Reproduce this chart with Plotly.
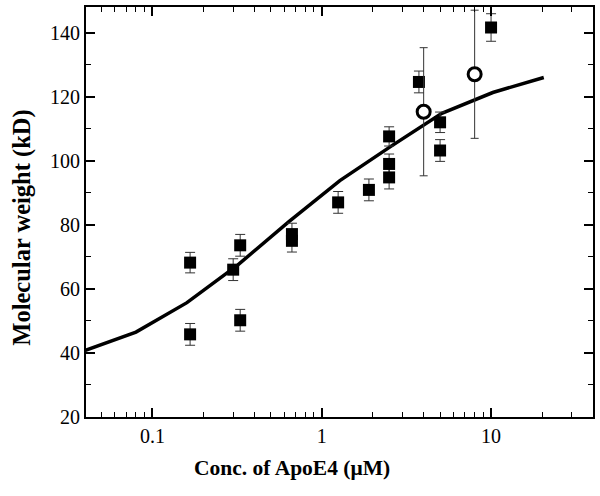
import plotly.graph_objects as go

# Filled squares (measurements)
sq_x = [0.167, 0.167, 0.3, 0.33, 0.33, 0.667, 0.667, 1.25, 1.9, 2.5, 2.5, 2.5, 3.75, 5, 5, 10]
sq_y = [68.2, 45.8, 66.0, 73.6, 50.2, 77.1, 75.0, 87.0, 90.9, 107.6, 99.0, 94.8, 124.6, 112.0, 103.2, 141.6]
sq_err = [3.2, 3.4, 3.4, 3.4, 3.4, 3.4, 3.5, 3.4, 3.4, 3.0, 3.1, 3.6, 3.4, 3.2, 3.4, 4.3]

# Open circles
oc_x = [4, 8]
oc_y = [115.3, 127.0]
oc_err = [20.0, 20.0]

# Fitted curve
fit_x = [0.04, 0.08, 0.16, 0.32, 0.64, 1.28, 2.56, 5.12, 10.24, 20.48]
fit_y = [40.8, 46.5, 55.7, 67.5, 81.0, 93.8, 104.5, 114.8, 121.3, 126.0]

# Axis ticks
x_ticks = [0.1, 1, 10]
x_ticktext = ["0.1", "1", "10"]
x_minor = [0.05, 0.06, 0.07, 0.08, 0.09, 0.2, 0.3, 0.4, 0.5, 0.6, 0.7, 0.8, 0.9,
           2, 3, 4, 5, 6, 7, 8, 9, 20, 30]
y_ticks = [20, 40, 60, 80, 100, 120, 140]
y_minor = [30, 50, 70, 90, 110, 130]

FONT = "Liberation Serif"

fig = go.Figure()
fig.add_trace(go.Scatter(
    x=fit_x, y=fit_y, mode="lines",
    line=dict(color="black", width=3.5), showlegend=False, hoverinfo="skip"))
fig.add_trace(go.Scatter(
    x=sq_x, y=sq_y, mode="markers",
    marker=dict(symbol="square", size=12, color="black"),
    error_y=dict(type="data", array=sq_err, visible=True, color="#333333",
                 thickness=1, width=5),
    showlegend=False))
fig.add_trace(go.Scatter(
    x=oc_x, y=oc_y, mode="markers",
    marker=dict(symbol="circle", size=13, color="white",
                line=dict(color="black", width=3)),
    error_y=dict(type="data", array=oc_err, visible=True, color="#333333",
                 thickness=1, width=4),
    showlegend=False))

fig.update_layout(
    width=600, height=496,
    margin=dict(l=86, r=5, t=6, b=79),
    paper_bgcolor="white", plot_bgcolor="white",
    font=dict(family=FONT, color="black", size=20),
    xaxis=dict(
        type="log", range=[-1.392, 1.602],
        tickmode="array", tickvals=x_ticks, ticktext=x_ticktext,
        ticks="inside", ticklen=9, tickwidth=1.5, tickcolor="black",
        showline=True, linecolor="black", linewidth=2, mirror="ticks",
        showgrid=False, zeroline=False,
        tickfont=dict(family=FONT, size=20),
        minor=dict(tickmode="array", tickvals=x_minor, ticks="inside",
                   ticklen=5, tickwidth=1.2, tickcolor="black", showgrid=False),
    ),
    yaxis=dict(
        range=[20, 148],
        tickmode="array", tickvals=y_ticks,
        ticks="inside", ticklen=9, tickwidth=1.5, tickcolor="black",
        showline=True, linecolor="black", linewidth=2, mirror="ticks",
        showgrid=False, zeroline=False,
        tickfont=dict(family=FONT, size=20),
        minor=dict(tickmode="array", tickvals=y_minor, ticks="inside",
                   ticklen=5, tickwidth=1.2, tickcolor="black", showgrid=False),
    ),
    annotations=[
        dict(text="<b>Conc. of ApoE4 (μM)</b>", xref="paper", yref="paper",
             x=0.407, y=-0.124, showarrow=False, xanchor="center", yanchor="middle",
             font=dict(family=FONT, size=21.5, color="black")),
        dict(text="<b>Molecular weight (kD)</b>", xref="paper", yref="paper",
             x=-0.128, y=0.462, showarrow=False, xanchor="center", yanchor="middle",
             textangle=-90, font=dict(family=FONT, size=24.5, color="black")),
    ],
)

fig.write_html("out.html", post_script="document.body.style.margin='0';",
               config={"displayModeBar": False})
